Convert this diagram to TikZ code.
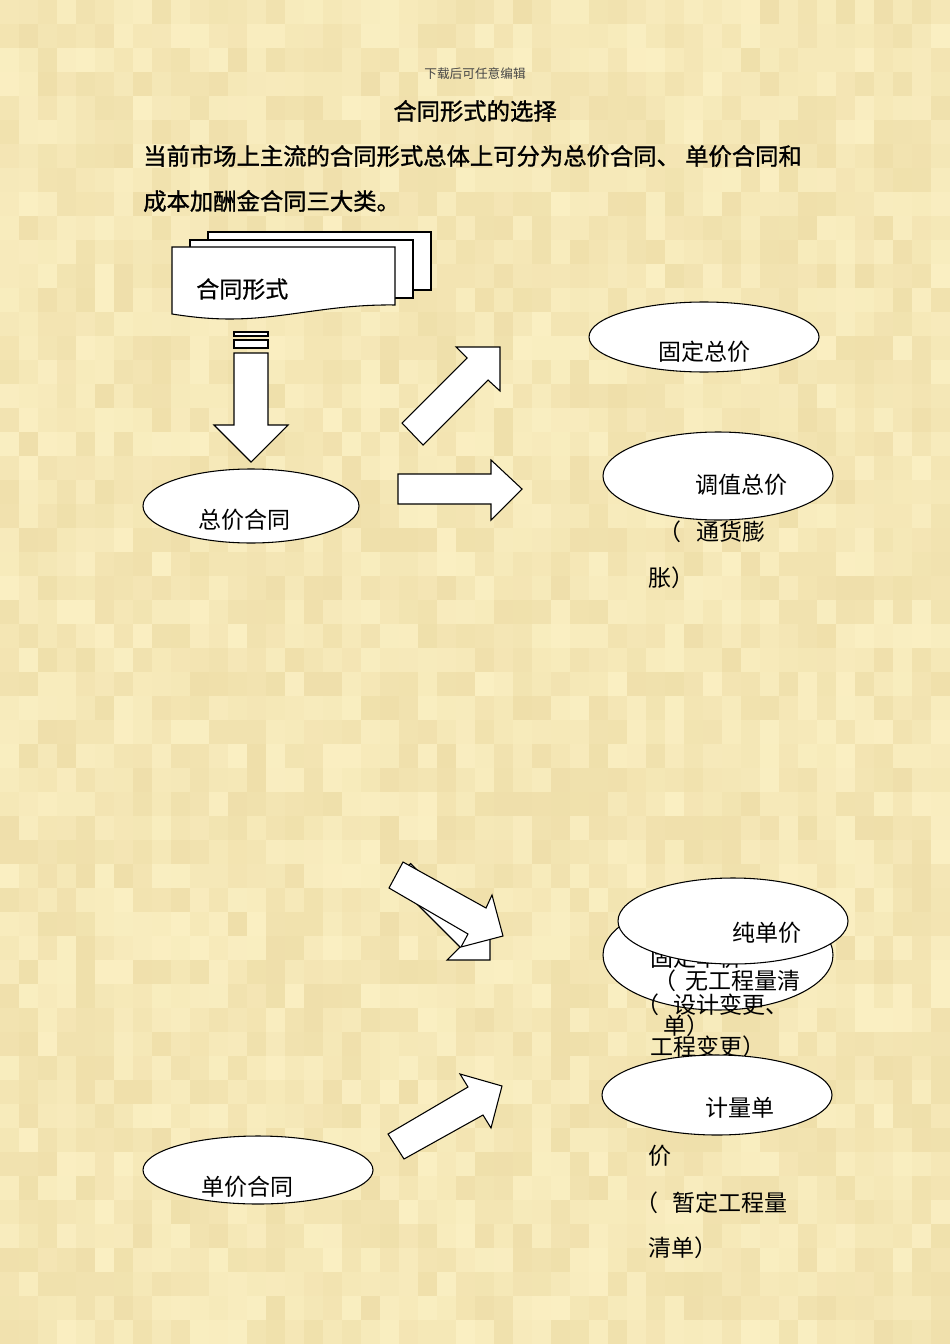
\documentclass[tikz,border=0pt]{standalone}
\usepackage{fontspec}
\setmainfont{Noto Sans CJK SC}
\newfontfamily\cjk{Noto Sans CJK SC}
\newfontfamily\cjkb[FakeBold=1.2]{Noto Sans CJK SC}
\newfontfamily\cjkm[FakeBold=0.6]{Noto Sans CJK SC}
\usetikzlibrary{shapes.geometric}
\definecolor{bgdark}{RGB}{239,223,170}
\definecolor{bglight}{RGB}{250,239,194}
\definecolor{hdr}{RGB}{70,70,70}
\tikzset{
  ell/.style={ellipse, draw=black, fill=white, line width=0.8pt, inner sep=0pt},
  shapeln/.style={draw=black, fill=white, line width=0.8pt, line join=miter},
  txt/.style={inner sep=0pt, font=\cjk\fontsize{17.25}{20}\selectfont},
  btxt/.style={inner sep=0pt, font=\cjkb\fontsize{17.5}{20}\selectfont},
  mtxt/.style={inner sep=0pt, font=\cjkm\fontsize{17.25}{20}\selectfont},
  htxt/.style={inner sep=0pt, text=hdr, font=\cjk\fontsize{9.5}{11}\selectfont}
}
\begin{document}
\begin{tikzpicture}[x=0.75pt,y=-0.75pt]
\useasboundingbox (0,0) rectangle (950,1344);
\fill[bglight!55!bgdark] (0,0) rectangle (950,1344);
\pgfmathsetseed{11}
\foreach \i in {0,...,49}{
  \foreach \j in {0,...,55}{
    \pgfmathsetmacro\r{int(random(0,100))}
    \fill[bgdark!\r!bglight] (\i*19,\j*24) rectangle ++(19,24);
  }
}
% header texts
\node[htxt] (hdr) at (475,74) {下载后可任意编辑};
\node[btxt] (title) at (475,111) {合同形式的选择};
\node[btxt, anchor=west] (l1) at (143,156) {当前市场上主流的合同形式总体上可分为总价合同、 单价合同和};
\node[btxt, anchor=west] (l2) at (143,201) {成本加酬金合同三大类。};
% multidocument
\draw[shapeln] (208,232) rectangle (431,290);
\draw[shapeln] (190,240) rectangle (413,298);
\draw[shapeln] (172,247) -- (395,247) -- (395,305)
   .. controls (330,304) and (285,319) .. (230,319)
   .. controls (205,319) and (185,316) .. (172,314) -- cycle;
\node[mtxt, anchor=west] (doc) at (196,289) {合同形式};
% down arrow
\draw[shapeln] (234,332) rectangle (268,336);
\draw[shapeln] (234,340) rectangle (268,348);
\draw[shapeln] (234,353) -- (268,353) -- (268,425) -- (288,425) -- (251,462) -- (214,425) -- (234,425) -- cycle;
% upper arrows
\draw[shapeln] (402,423) -- (467,358) -- (456,347) -- (500,347) -- (500,391) -- (488,380) -- (423,445) -- cycle;
\draw[shapeln] (398,474) -- (491,474) -- (491,460) -- (522,489) -- (491,520) -- (491,504) -- (398,504) -- cycle;
% upper ellipses
\node[ell, minimum width=162pt, minimum height=55.5pt] (zj) at (251,506) {};
\node[txt] (zjt) at (244,520) {总价合同};
\node[ell, minimum width=172.5pt, minimum height=52.5pt] (gd) at (704,337) {};
\node[txt] (gdt) at (704,352) {固定总价};
\node[ell, minimum width=172.5pt, minimum height=66pt] (tz) at (718,476) {};
\node[txt] (tzt) at (741,485) {调值总价};
\node[txt, anchor=west] (tz2) at (658,532) {（\hspace{11.25pt}通货膨};
\node[txt, anchor=west] (tz3) at (648,578) {胀）};
% lower arrows
\draw[shapeln] (410.5,863.5) -- (477,930) -- (490,917) -- (490,960) -- (447,960) -- (460,947) -- (393.5,880.5) -- cycle;
\draw[shapeln] (403,862) -- (486,908) -- (492,895) -- (503,936) -- (461,947) -- (468,934) -- (389,888) -- cycle;
\draw[shapeln] (404,1159) -- (388,1134) -- (468,1087) -- (460,1074) -- (502,1086) -- (491,1128) -- (483,1115) -- cycle;
% lower ellipses
\node[ell, minimum width=172.5pt, minimum height=82.5pt] (gdd) at (718,955) {};
\node[txt, anchor=west] (gddt) at (650,958) {固定单价};
\node[ell, minimum width=172.5pt, minimum height=64.5pt] (cd) at (733,921) {};
\node[txt] (cdt) at (767,933) {纯单价};
\node[txt, anchor=west] (cd2) at (653,981) {（\hspace{6.75pt}无工程量清};
\node[txt, anchor=west] (gd2) at (636,1005) {（\hspace{10.5pt}设计变更、};
\node[txt, anchor=west] (cd3) at (663,1026) {单）};
\node[txt, anchor=west] (gd3) at (650,1047) {工程变更）};
\node[ell, minimum width=172.5pt, minimum height=60pt] (jl) at (717,1095) {};
\node[txt] (jlt) at (740,1108) {计量单};
\node[txt, anchor=west] (jl2) at (648,1156) {价};
\node[txt, anchor=west] (jl3) at (635,1203) {（\hspace{10.5pt}暂定工程量};
\node[txt, anchor=west] (jl4) at (648,1248) {清单）};
\node[ell, minimum width=172.5pt, minimum height=51pt] (dj) at (258,1170) {};
\node[txt] (djt) at (247,1187) {单价合同};
\end{tikzpicture}
\end{document}
